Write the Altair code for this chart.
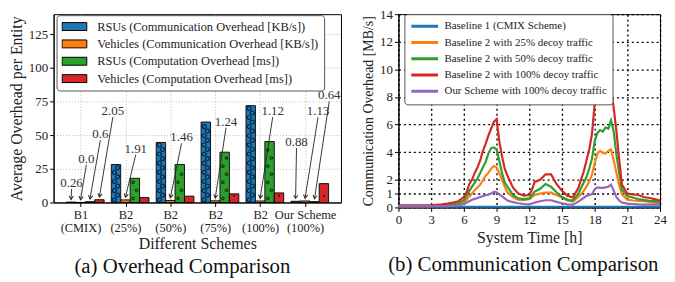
import json
import math
import altair as alt
import pandas as pd

FONT = "Liberation Serif"

# ---------------- (a) Overhead Comparison ----------------
scheme_top = ["B1", "B2", "B2", "B2", "B2", "Our Scheme"]
scheme_bottom = ["(CMIX)", "(25%)", "(50%)", "(75%)", "(100%)", "(100%)"]
series_a = [
    "RSUs (Communication Overhead [KB/s])",
    "Vehicles (Communication Overhead [KB/s])",
    "RSUs (Computation Overhead [ms])",
    "Vehicles (Computation Overhead [ms])",
]
rsu_comm = [0.26, 28.2, 44.6, 59.8, 72.0, 0.88]
veh_comm = [0.0, 1.91, 1.46, 1.24, 1.12, 1.13]
rsu_comp = [0.6, 18.0, 28.2, 37.4, 45.3, 0.64]
veh_comp = [2.05, 3.6, 4.7, 6.4, 7.1, 14.0]
colors_a = ["#1f77b4", "#ff7f0e", "#2ca02c", "#d62728"]

ann_text = ["0.26", "0.0", "0.6", "2.05", "1.91", "1.46", "1.24", "1.12", "0.88", "1.13", "0.64"]
ann_group = [0, 0, 0, 0, 1, 2, 3, 4, 5, 5, 5]
ann_series = [0, 1, 2, 3, 1, 1, 1, 1, 0, 1, 2]
ann_x = [-0.20, 0.13, 0.44, 0.72, 1.23, 2.25, 3.24, 4.28, 4.81, 5.29, 5.54]
ann_y = [14.5, 32.6, 50.7, 68.0, 40.0, 48.5, 60.0, 68.0, 45.0, 68.0, 79.7]

# ---------------- (b) Communication Comparison ----------------
series_b = [
    "Baseline 1 (CMIX Scheme)",
    "Baseline 2 with 25% decoy traffic",
    "Baseline 2 with 50% decoy traffic",
    "Baseline 2 with 100% decoy traffic",
    "Our Scheme with 100% decoy traffic",
]
colors_b = ["#1f77b4", "#ff7f0e", "#2ca02c", "#d62728", "#9467bd"]
baseline1_hours = [0, 24]
baseline1 = [0.05, 0.05]
hours = [0, 1, 2, 3, 4, 4.5, 5, 5.5, 6, 6.25, 6.5, 6.75, 7, 7.25, 7.5, 7.75, 8, 8.25, 8.5,
         8.75, 9, 9.25, 9.5, 9.75, 10, 10.5, 11, 11.5, 12, 12.25, 12.5, 13, 13.5, 14, 14.5,
         15, 15.5, 16, 16.5, 17, 17.25, 17.5, 17.75, 18, 18.25, 18.5, 18.75, 19, 19.25,
         19.5, 19.75, 20, 20.25, 20.5, 21, 21.5, 22, 22.5, 23, 23.5, 24]
b2_100 = [0.15, 0.15, 0.15, 0.15, 0.22, 0.28, 0.35, 0.45, 0.75, 1.1, 1.7, 2.0, 2.5, 2.9, 3.4,
          4.1, 4.6, 5.2, 5.7, 6.2, 6.4, 4.8, 3.7, 2.8, 2.3, 1.45, 1.0, 0.85, 0.9, 1.3, 1.85,
          2.0, 2.4, 2.4, 1.7, 1.2, 0.85, 0.72, 1.4, 2.6, 3.4, 4.2, 5.3, 7.5, 7.9, 7.8, 7.9,
          8.05, 8.4, 8.6, 7.2, 5.5, 3.5, 1.65, 1.0, 0.95, 0.9, 0.75, 0.68, 0.6, 0.5]
b2_50 = [0.12, 0.12, 0.12, 0.12, 0.15, 0.18, 0.22, 0.3, 0.5, 0.8, 1.2, 1.5, 1.8, 2.1, 2.5,
         2.9, 3.3, 3.9, 4.3, 4.35, 4.2, 3.4, 2.5, 1.8, 1.5, 0.9, 0.65, 0.6, 0.65, 0.9, 1.15,
         1.35, 1.7, 1.5, 1.1, 0.75, 0.55, 0.5, 1.0, 1.8, 2.2, 2.8, 3.5, 4.8, 5.4, 5.6, 5.5,
         5.8, 5.7, 6.3, 5.5, 3.8, 2.5, 1.3, 0.8, 0.72, 0.6, 0.55, 0.48, 0.45, 0.37]
b2_25 = [0.1, 0.1, 0.1, 0.1, 0.12, 0.14, 0.16, 0.2, 0.35, 0.55, 0.8, 1.0, 1.25, 1.45, 1.65,
         1.95, 2.3, 2.5, 2.8, 3.0, 2.9, 2.5, 2.0, 1.5, 1.1, 0.75, 0.55, 0.52, 0.6, 0.75, 0.9,
         1.0, 1.07, 1.07, 0.9, 0.72, 0.5, 0.43, 0.75, 1.2, 1.5, 1.9, 2.35, 3.2, 3.9, 4.1,
         3.95, 3.9, 4.1, 4.2, 3.4, 2.5, 1.6, 0.95, 0.55, 0.5, 0.48, 0.45, 0.4, 0.35, 0.3]
ours_100 = [0.1, 0.1, 0.1, 0.1, 0.1, 0.1, 0.12, 0.14, 0.25, 0.35, 0.45, 0.55, 0.62, 0.68,
            0.75, 0.82, 0.88, 0.93, 1.0, 1.12, 1.1, 0.95, 0.8, 0.65, 0.5, 0.38, 0.3, 0.25,
            0.22, 0.28, 0.35, 0.45, 0.52, 0.52, 0.4, 0.3, 0.22, 0.2, 0.42, 0.7, 0.82, 0.9,
            0.95, 1.3, 1.45, 1.42, 1.42, 1.45, 1.5, 1.65, 1.2, 0.75, 0.5, 0.35, 0.28, 0.25,
            0.22, 0.2, 0.2, 0.2, 0.2]

# ---------------- build tables ----------------
BAR_W = 0.21
values_a = [rsu_comm, veh_comm, rsu_comp, veh_comp]
bar_rows = []
for s, vals in enumerate(values_a):
    for g, v in enumerate(vals):
        c = g + (s - 1) * BAR_W
        bar_rows.append({"series": series_a[s], "x": c - BAR_W / 2, "x2": c + BAR_W / 2,
                         "v": v, "base": 0.0})
bars_df = pd.DataFrame(bar_rows)

# hatch-like decoration derived from bar heights
def hatch(vals, s, start, step, shift):
    rows = []
    for g, v in enumerate(vals):
        c = g + (s - 1) * BAR_W
        k = 0
        y = start
        while y < v - 1.2:
            rows.append({"x": c + (shift if k % 2 else -shift), "y": y})
            y += step
            k += 1
    return pd.DataFrame(rows)

hatch_blue = hatch(rsu_comm, 0, 2.0, 3.4, 0.035)
hatch_green = hatch(rsu_comp, 2, 3.0, 6.0, 0.04)
hatch_red = hatch(veh_comp, 3, 5.0, 9.0, 0.0)

X_DOM = [-0.6, 5.8]
Y_DOM = [0, 140]
W_A, H_A = 290, 190
PX_X = W_A / (X_DOM[1] - X_DOM[0])
PX_Y = H_A / (Y_DOM[1] - Y_DOM[0])
ann_rows = []
for t, g, s, tx, ty in zip(ann_text, ann_group, ann_series, ann_x, ann_y):
    bx = g + (s - 1) * BAR_W
    by = values_a[s][g] + 2.0
    sy = ty - 4.5
    dxp = (bx - tx) * PX_X
    dyp = (sy - by) * PX_Y
    ang = math.degrees(math.atan2(-dxp, dyp)) % 360
    ann_rows.append({"t": t, "tx": tx, "ty": ty, "sy": sy, "bx": bx, "by": by, "ang": ang})
ann_df = pd.DataFrame(ann_rows)

label_arr = json.dumps([[a, b] for a, b in zip(scheme_top, scheme_bottom)])

xs_a = alt.Scale(domain=X_DOM, nice=False, zero=False)
ys_a = alt.Scale(domain=Y_DOM, nice=False)

x_axis_a = alt.Axis(values=list(range(6)), labelExpr=f"{label_arr}[datum.value]",
                    labelOverlap=False, labelBound=False, labelFlush=False,
                    title="Different Schemes", titleFont=FONT, titleFontSize=16,
                    titleFontWeight="normal", labelFont=FONT, labelFontSize=12.5,
                    labelLineHeight=13, labelColor="#222", titleColor="#222",
                    domainColor="black", tickColor="black", tickSize=4, labelPadding=2,
                    titlePadding=2, grid=True, gridColor="#bbbbbb", gridDash=[1, 2],
                    gridWidth=1)
y_axis_a = alt.Axis(values=[0, 25, 50, 75, 100, 125], title="Average Overhead per Entity",
                    titleFont=FONT, titleFontSize=16, titleFontWeight="normal",
                    labelFont=FONT, labelFontSize=13, labelColor="#222", titleColor="#222",
                    domainColor="black", tickColor="black", tickSize=4, labelPadding=2,
                    titlePadding=4, grid=True, gridColor="#bbbbbb", gridDash=[1, 2],
                    gridWidth=1)

def px(field):
    return alt.X(field, scale=xs_a, axis=x_axis_a)

def py(field):
    return alt.Y(field, scale=ys_a, axis=y_axis_a)

bars = alt.Chart(bars_df).mark_bar(stroke="black", strokeWidth=0.9).encode(
    x=px("x:Q"),
    x2="x2:Q",
    y=py("v:Q"),
    y2="base:Q",
    color=alt.Color("series:N", scale=alt.Scale(domain=series_a, range=colors_a),
                    legend=alt.Legend(title=None, orient="none", legendX=3, legendY=1,
                                      fillColor="white", strokeColor="#555", padding=5,
                                      cornerRadius=3, labelFont=FONT, labelFontSize=12.5,
                                      labelColor="#222", labelLimit=500,
                                      symbolType="M-1,-0.32L1,-0.32L1,0.32L-1,0.32Z",
                                      symbolSize=625, symbolStrokeColor="black",
                                      symbolStrokeWidth=1, symbolOpacity=1, clipHeight=13,
                                      rowPadding=4.5, labelOffset=10)),
)

pat_blue = alt.Chart(hatch_blue).mark_point(shape="circle", filled=False, size=16,
                                            stroke="#0b2440", strokeWidth=1.2, opacity=1).encode(
    x=px("x:Q"), y=py("y:Q"))
pat_green = alt.Chart(hatch_green).mark_point(shape="circle", filled=False, size=7,
                                              stroke="#111", strokeWidth=1, opacity=1).encode(
    x=px("x:Q"), y=py("y:Q"))
pat_red = alt.Chart(hatch_red).mark_point(shape="circle", filled=True, size=4,
                                          color="#111", opacity=1).encode(
    x=px("x:Q"), y=py("y:Q"))

arrows = alt.Chart(ann_df).mark_rule(color="#222", strokeWidth=0.9).encode(
    x=px("tx:Q"), y=py("sy:Q"), x2="bx:Q", y2="by:Q")
heads = alt.Chart(ann_df).mark_point(shape="M-0.6,-1L0,0L0.6,-1", filled=False, size=49,
                                     stroke="#222", strokeWidth=1, opacity=1).encode(
    x=px("bx:Q"), y=py("by:Q"), angle=alt.Angle("ang:Q", scale=None))
texts = alt.Chart(ann_df).mark_text(font=FONT, fontSize=13, color="#333",
                                    baseline="middle").encode(
    x=px("tx:Q"), y=py("ty:Q"), text="t:N")

panel_a = alt.layer(bars, pat_blue, pat_green, pat_red, arrows, heads, texts).properties(
    width=W_A, height=H_A,
    title=alt.TitleParams("(a) Overhead Comparison", orient="bottom", font=FONT,
                          fontSize=21, fontWeight="normal", color="#111", offset=5,
                          anchor="middle", frame="group", dx=-15))

# ---------------- panel (b) ----------------
line_rows = []
for h, v in zip(baseline1_hours, baseline1):
    line_rows.append({"line": series_b[0], "h": h, "v": v})
for name, vals in zip(series_b[1:], [b2_25, b2_50, b2_100, ours_100]):
    for h, v in zip(hours, vals):
        line_rows.append({"line": name, "h": h, "v": v})
lines_df = pd.DataFrame(line_rows)
lines_df["order"] = lines_df["line"].map({n: i for i, n in enumerate(series_b)})

x_axis_b = alt.Axis(values=list(range(0, 25, 3)), title="System Time [h]", titleFont=FONT,
                    titleFontSize=16, titleFontWeight="normal", labelFont=FONT,
                    labelFontSize=13, labelColor="#222", titleColor="#222",
                    labelFlush=False, labelOverlap=False,
                    domainColor="black", tickColor="black", tickSize=4, labelPadding=2,
                    titlePadding=3, grid=True, gridColor="black", gridDash=[2, 3],
                    gridWidth=1.4)
y_axis_b = alt.Axis(values=[0, 1, 2, 4, 6, 8, 10, 12, 14],
                    title="Communication Overhead [MB/s]", titleFont=FONT, titleFontSize=14,
                    titleFontWeight="normal", labelFont=FONT, labelFontSize=13,
                    labelColor="#222", titleColor="#222", domainColor="black",
                    labelFlush=False, labelOverlap=False,
                    tickColor="black", tickSize=4, labelPadding=2, titlePadding=4, grid=True,
                    gridColor="black", gridDash=[2, 3], gridWidth=1.4)

panel_b = alt.Chart(lines_df).mark_line(strokeWidth=2.2).encode(
    x=alt.X("h:Q", scale=alt.Scale(domain=[0, 24], nice=False), axis=x_axis_b),
    y=alt.Y("v:Q", scale=alt.Scale(domain=[0, 14], nice=False), axis=y_axis_b),
    color=alt.Color("line:N", scale=alt.Scale(domain=series_b, range=colors_b),
                    legend=alt.Legend(title=None, orient="none", legendX=6, legendY=0,
                                      fillColor="white", strokeColor="#555", padding=5.5,
                                      cornerRadius=3, labelFont=FONT, labelFontSize=11,
                                      labelColor="#222", labelLimit=500, symbolType="stroke",
                                      symbolSize=729, symbolStrokeWidth=3, clipHeight=13.5,
                                      rowPadding=2.4, labelOffset=5)),
    order=alt.Order("order:Q"),
).properties(
    width=264, height=195,
    title=alt.TitleParams("(b) Communication Comparison", orient="bottom", font=FONT,
                          fontSize=21, fontWeight="normal", color="#111", offset=9,
                          anchor="middle", frame="group", dx=-6))

base = alt.hconcat(panel_a, panel_b, spacing=19).resolve_scale(color="independent")

try:
    chart = base.properties(
        padding={"left": 0, "top": -2, "right": 0, "bottom": 0}
    ).configure_view(stroke="black", strokeWidth=1)
    chart.to_dict()
except Exception:
    chart = base.properties(
        padding={"left": 0, "top": 0, "right": 0, "bottom": 0}
    ).configure_view(stroke="black", strokeWidth=1)

chart.save("out.html", embed_options={"renderer": "svg", "actions": False})
